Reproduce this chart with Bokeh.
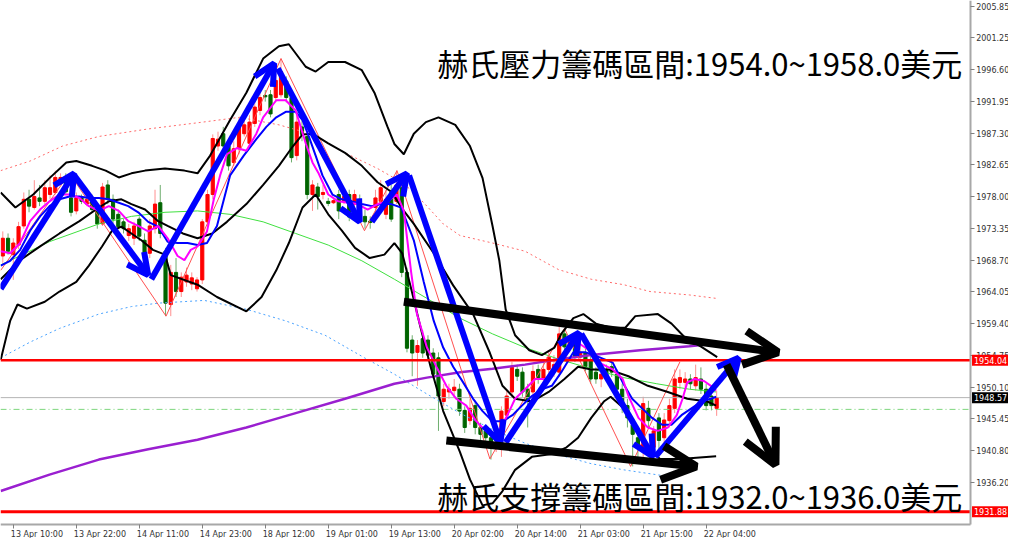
from bokeh.plotting import figure
from bokeh.models import (ColumnDataSource, Label, Arrow, OpenHead, FixedTicker,
                          PrintfTickFormatter)
from bokeh.embed import file_html
from bokeh.resources import INLINE

# ---------------- candles (hourly, bar index 0..136) ----------------
opens = [1969.3,1971.9,1969.5,1970.9,1973.7,1977.6,1976.4,1977.8,1977.3,1978.3,
         1978.6,1980.1,1980.8,1977.8,1975.9,1977.8,1976.9,1977.6,1975.9,1974.0,
         1979.7,1977.6,1975.4,1974.3,1972.3,1971.9,1974.7,1971.6,1969.7,1973.3,
         1977.1,1970.0,1962.2,1966.9,1964.1,1965.5,1965.2,1964.5,1965.8,1974.3,
         1978.3,1985.4,1987.2,1985.4,1983.0,1985.0,1987.2,1985.8,1988.7,1990.6,
         1992.8,1992.9,1992.5,1992.9,1994.9,1992.5,1984.0,1988.2,1986.8,1978.3,
         1979.4,1978.3,1977.3,1977.1,1978.3,1977.3,1978.3,1976.9,1977.6,1975.1,
         1974.4,1976.4,1977.3,1975.4,1978.6,1977.3,1979.3,1966.9,1957.0,1955.2,
         1957.2,1957.0,1955.1,1954.4,1948.0,1949.4,1949.6,1949.8,1946.7,1945.2,
         1947.4,1944.2,1943.7,1942.7,1942.3,1944.2,1946.0,1949.4,1952.7,1952.3,
         1949.8,1949.4,1952.7,1951.3,1952.7,1952.3,1952.3,1957.9,1956.0,1956.5,
         1954.5,1955.1,1954.1,1952.3,1951.3,1952.7,1953.1,1952.0,1949.8,1947.4,
         1944.6,1942.7,1940.9,1947.0,1941.3,1945.6,1942.7,1945.2,1947.0,1950.8,
         1950.8,1951.3,1950.3,1951.3,1949.8,1948.8,1947.0]
highs = [1972.9,1972.6,1971.9,1974.3,1978.6,1979.0,1980.4,1979.7,1980.4,1981.1,
         1981.8,1981.4,1981.4,1978.3,1978.6,1978.3,1978.3,1978.3,1976.6,1980.0,
         1980.4,1978.3,1976.1,1974.7,1974.0,1974.3,1975.1,1972.6,1974.7,1979.0,
         1979.7,1970.5,1968.0,1969.0,1966.9,1967.6,1966.9,1966.2,1974.7,1979.0,
         1987.1,1987.5,1988.2,1986.1,1986.1,1989.6,1989.6,1989.9,1992.1,1993.2,
         1993.6,1993.6,1996.0,1998.2,1995.6,1993.2,1989.9,1989.6,1987.5,1980.4,
         1980.0,1979.7,1977.8,1977.8,1979.0,1978.6,1979.0,1979.0,1978.3,1976.1,
         1975.1,1979.0,1980.4,1979.0,1979.7,1981.8,1980.4,1967.6,1957.7,1957.0,
         1958.4,1957.7,1955.8,1955.2,1950.6,1950.6,1951.3,1950.6,1947.3,1948.4,
         1948.1,1944.9,1944.2,1943.4,1944.2,1947.3,1949.8,1953.8,1953.4,1953.0,
         1950.6,1953.3,1953.4,1953.8,1955.5,1954.8,1959.1,1958.7,1957.7,1957.2,
         1956.2,1955.8,1954.8,1953.0,1952.7,1953.4,1953.8,1952.7,1950.6,1948.4,
         1945.6,1943.4,1948.7,1948.1,1944.4,1946.3,1946.3,1948.4,1952.7,1952.7,
         1952.3,1952.0,1953.4,1953.0,1950.6,1949.6,1949.6]
lows = [1968.3,1969.5,1965.8,1970.3,1973.3,1975.7,1976.1,1976.6,1976.9,1977.6,
        1978.3,1979.7,1978.3,1975.1,1975.4,1976.9,1976.6,1975.7,1973.3,1973.7,
        1976.9,1974.0,1973.2,1972.6,1971.5,1970.9,1971.5,1968.6,1969.0,1972.6,
        1971.9,1960.5,1960.5,1963.3,1963.3,1964.8,1964.3,1964.1,1965.2,1973.7,
        1977.6,1984.7,1984.7,1981.8,1982.5,1984.2,1986.8,1985.4,1988.2,1989.9,
        1991.9,1989.6,1991.8,1992.5,1991.8,1983.0,1983.3,1986.1,1977.6,1975.9,
        1976.1,1977.6,1976.6,1976.9,1974.7,1976.9,1974.4,1976.4,1974.4,1973.3,
        1973.3,1975.7,1976.9,1974.7,1974.3,1976.9,1966.2,1955.2,1951.7,1950.3,
        1954.4,1954.1,1951.3,1943.7,1947.3,1948.4,1948.7,1945.9,1943.4,1944.6,
        1943.2,1942.0,1941.3,1939.5,1940.6,1939.9,1945.3,1948.7,1951.0,1948.7,
        1944.2,1948.7,1950.6,1950.6,1952.0,1951.6,1951.6,1955.2,1955.2,1953.8,
        1953.8,1952.4,1950.6,1950.6,1950.1,1951.0,1951.6,1949.1,1946.3,1944.2,
        1938.5,1939.9,1939.2,1944.2,1939.9,1940.6,1941.6,1944.2,1946.3,1949.8,
        1950.1,1949.8,1949.6,1949.1,1946.7,1946.7,1945.9]
closes = [1971.9,1970.0,1971.2,1973.6,1977.6,1976.6,1978.0,1977.3,1979.3,1979.3,
          1980.8,1980.8,1978.7,1975.7,1977.8,1977.3,1977.6,1976.1,1974.0,1979.4,
          1977.6,1974.7,1973.6,1973.3,1973.3,1973.7,1972.2,1969.3,1973.7,1976.9,
          1972.6,1962.4,1966.9,1964.1,1966.2,1966.5,1966.1,1965.8,1974.3,1978.3,
          1986.5,1986.4,1985.4,1982.5,1985.0,1988.7,1988.5,1988.9,1991.1,1992.5,
          1992.6,1990.1,1995.0,1996.3,1992.5,1983.7,1988.9,1987.1,1978.3,1979.7,
          1978.0,1978.6,1977.0,1977.4,1975.9,1978.0,1975.0,1978.3,1975.1,1974.3,
          1974.2,1977.8,1979.3,1977.6,1974.7,1979.7,1966.9,1955.8,1955.1,1956.2,
          1955.1,1954.8,1952.0,1948.8,1949.8,1949.8,1950.1,1946.6,1944.2,1947.0,
          1944.2,1943.2,1942.7,1942.0,1943.2,1946.6,1948.8,1953.0,1951.7,1949.4,
          1948.0,1952.4,1951.3,1952.7,1954.5,1953.4,1957.9,1956.0,1956.7,1954.5,
          1955.2,1953.1,1951.3,1951.3,1952.0,1951.7,1952.3,1949.8,1947.4,1945.6,
          1943.2,1941.3,1947.7,1945.2,1943.7,1942.3,1945.3,1947.4,1951.3,1951.5,
          1951.3,1950.6,1951.5,1949.8,1947.4,1947.4,1948.57]

# ---------------- axis ticks ----------------
tick_bars = [2, 14, 26, 38, 50, 62, 74, 86, 98, 110, 122, 134]
tick_labels = ["13 Apr 10:00", "13 Apr 22:00", "14 Apr 11:00", "14 Apr 23:00",
               "18 Apr 12:00", "19 Apr 01:00", "19 Apr 13:00", "20 Apr 02:00",
               "20 Apr 14:00", "21 Apr 03:00", "21 Apr 15:00", "22 Apr 04:00"]
y_ticks = [2005.85, 2001.25, 1996.60, 1991.95, 1987.30, 1982.65, 1978.00, 1973.35,
           1968.70, 1964.05, 1959.40, 1954.75, 1950.10, 1945.45, 1940.80, 1936.20]

# ---------------- indicator lines (bar index, price) ----------------
mag_x = [-0.4,1.4,3.3,5.2,7.1,8.9,10.8,12.7,14.6,16.4,18.3,20.2,22.1,23.9,25.8,27.7,29.6,31.4,33.3,34.6,
         35.8,37.1,38.9,40.2,41.4,42.7,44.6,46.4,48.3,49.6,52.1,53.9,55.8,57.7,59.0,60.1,62.0,63.9,65.8,67.6,
         69.5,71.4,73.3,75.1,76.4,77.8,78.9,80.8,82.6,84.5,86.4,88.3,90.1,92.0,93.9,95.2,96.5,97.6,99.5,101.4,
         103.3,105.1,106.4,108.3,109.8,111.7,113.6,116.2,118.1,119.2,121.1,122.9,124.8,126.7,128.4,129.5,130.4,
         131.8,133.6,134.9,135.9]
mag_y = [1970.0,1969.7,1971.2,1974.4,1976.1,1977.3,1978.3,1978.3,1977.8,1976.6,1975.9,1976.6,1975.9,1974.4,
         1973.7,1972.9,1973.7,1971.9,1969.3,1968.7,1970.2,1970.7,1972.9,1977.6,1981.1,1984.2,1985.1,1984.7,
         1987.2,1989.6,1992.1,1992.1,1990.6,1985.8,1983.0,1981.5,1978.3,1977.3,1977.1,1976.9,1976.1,1976.9,
         1977.3,1978.3,1975.9,1966.9,1960.8,1955.9,1953.1,1950.3,1948.4,1947.4,1945.2,1943.7,1943.2,1944.6,
         1946.6,1948.4,1949.8,1951.3,1951.3,1952.3,1953.7,1956.7,1956.5,1955.5,1953.7,1952.7,1951.3,1948.8,
         1945.6,1944.2,1943.7,1944.2,1946.0,1948.4,1950.8,1951.3,1951.0,1950.3,1949.6]
blu_x = [-0.4,1.4,3.3,5.2,7.1,8.9,10.8,12.7,14.6,16.4,18.3,20.2,22.1,23.9,25.8,27.7,29.6,31.4,33.3,35.2,
         37.1,38.9,40.8,43.3,45.9,48.3,50.2,52.1,53.9,55.8,57.1,58.3,59.6,60.9,62.8,64.6,66.5,68.4,70.3,72.1,
         74.0,75.9,78.3,80.2,82.1,83.9,85.8,87.7,89.6,91.4,93.3,95.2,97.1,98.9,100.8,102.7,104.6,106.4,108.7,
         111.1,113.6,116.2,118.1,119.9,121.8,123.7,125.6,127.4,129.3,131.2,133.1,134.9,135.9]
blu_y = [1967.9,1968.6,1970.2,1973.0,1975.1,1976.6,1977.6,1978.0,1978.0,1977.8,1977.8,1977.6,1977.1,1976.6,
         1975.7,1974.3,1973.6,1971.4,1971.2,1971.2,1970.9,1971.2,1973.7,1981.1,1984.0,1986.4,1988.2,1989.6,
         1990.4,1990.4,1989.2,1986.8,1984.0,1981.1,1978.3,1977.6,1977.3,1976.9,1976.6,1976.9,1976.9,1976.4,
         1971.6,1965.5,1959.8,1955.9,1953.1,1950.8,1948.4,1946.6,1945.1,1945.1,1946.0,1947.4,1948.8,1949.8,
         1950.3,1952.3,1955.2,1955.2,1954.5,1953.7,1950.8,1948.4,1947.0,1945.6,1944.6,1944.6,1946.0,1947.0,
         1948.0,1948.4,1948.7]
bb_up_x = [-0.4,2.4,5.8,8.9,12.1,14.0,17.0,19.6,22.1,24.5,27.1,30.9,34.6,37.1,39.5,43.3,46.4,49.6,52.6,54.5,
           57.7,59.6,62.0,65.2,68.4,70.8,73.3,74.6,76.4,78.3,80.6,83.0,86.2,89.0,91.4,93.3,94.6,95.8,97.6,100.3,
           102.7,105.1,106.4,108.7,110.6,113.0,115.8,118.6,120.5,124.8,127.4,129.9,133.1,136.1]
bb_up_y = [1978.6,1976.4,1978.3,1980.7,1983.0,1983.2,1982.5,1981.8,1980.8,1981.4,1981.8,1982.1,1981.8,1981.4,
           1984.0,1989.2,1993.2,1998.2,2000.0,2000.3,1997.0,1996.3,1997.7,1997.7,1996.5,1993.2,1988.2,1985.7,
           1984.2,1987.2,1988.9,1989.6,1988.5,1985.4,1980.7,1973.7,1968.6,1961.5,1957.7,1955.5,1954.8,1955.9,
           1957.9,1960.2,1960.8,1959.4,1958.8,1958.8,1960.5,1960.8,1959.4,1957.4,1956.0,1954.5]
bb_mid_x = [-0.4,3.3,7.1,10.8,14.6,18.3,20.2,22.6,24.5,27.1,29.6,31.4,34.3,37.1,39.9,42.7,46.4,49.6,52.6,55.3,
            57.1,59.0,62.0,65.2,68.4,71.4,74.0,76.4,78.3,82.1,85.8,89.6,92.8,95.2,97.6,100.8,104.0,107.0,109.6,
            112.1,115.4,119.2,122.9,126.7,130.4,134.2,135.9]
bb_mid_y = [1965.9,1968.7,1970.7,1972.6,1974.4,1976.4,1977.3,1977.6,1976.9,1976.1,1974.4,1973.7,1972.6,1971.9,
            1972.6,1974.3,1976.9,1979.7,1982.5,1985.4,1987.1,1987.2,1985.8,1984.4,1982.5,1980.1,1978.7,1975.9,
            1974.0,1969.7,1965.0,1960.8,1955.1,1950.3,1948.4,1948.0,1949.4,1951.3,1953.1,1952.7,1952.7,1951.7,
            1950.3,1949.4,1948.4,1948.0,1947.4]
bb_lo_x = [-0.4,1.4,2.8,4.6,8.0,10.8,14.0,16.4,18.9,20.8,22.6,24.5,26.4,28.6,30.9,32.0,37.1,40.8,46.4,49.3,
           52.1,54.5,57.1,59.6,62.0,64.6,67.1,69.9,72.7,74.6,76.1,77.8,79.6,81.5,83.9,87.1,89.0,91.4,93.3,95.2,
           97.6,100.8,104.6,107.4,109.6,112.1,114.5,115.8,118.3,120.9,123.3,125.2,129.0,135.9]
bb_lo_y = [1954.1,1959.8,1962.2,1961.6,1962.6,1964.1,1965.5,1967.9,1970.7,1973.0,1973.6,1972.6,1971.6,1970.2,
           1969.5,1966.5,1965.1,1963.3,1961.2,1963.3,1967.2,1971.2,1976.4,1978.3,1975.4,1973.0,1970.5,1969.0,
           1969.5,1971.2,1969.7,1964.5,1958.8,1953.1,1946.6,1940.6,1936.6,1932.8,1933.1,1934.9,1938.0,1939.9,
           1940.3,1941.3,1942.7,1945.6,1948.0,1948.7,1947.0,1943.7,1941.0,1939.6,1939.6,1940.0]
grn_x = [-0.4,4.3,8.9,18.3,24.5,30.9,37.1,43.3,49.6,55.8,62.0,68.4,74.6,80.8,87.1,93.3,99.5,105.9,112.1,
         118.3,124.6,130.8,135.9]
grn_y = [1968.0,1969.7,1971.4,1974.0,1975.1,1975.7,1975.9,1975.4,1974.3,1972.6,1970.9,1968.6,1965.9,1963.1,
         1960.2,1957.9,1955.9,1954.2,1952.8,1951.5,1950.6,1949.8,1949.4]
pur_x = [-0.4,8.9,18.3,27.7,37.1,46.4,55.8,65.2,74.6,80.8,87.1,93.3,99.5,105.9,112.1,121.4,130.8,135.9]
pur_y = [1934.9,1937.3,1939.5,1941.0,1942.4,1944.2,1946.3,1948.4,1950.6,1951.5,1952.3,1952.8,1953.4,1954.2,
         1954.8,1955.5,1956.1,1956.5]
rdot_x = [-0.4,5.2,11.4,18.3,27.7,37.1,45.1,52.6,59.0,65.2,71.4,74.6,77.8,80.8,83.9,87.1,93.3,99.5,105.9,
          112.1,118.3,123.3,130.8,135.9]
rdot_y = [1981.8,1983.2,1985.4,1986.8,1987.9,1988.8,1989.6,1988.5,1987.1,1984.4,1982.1,1980.7,1979.0,1976.6,
          1974.0,1972.3,1971.2,1970.0,1967.3,1965.9,1965.1,1964.1,1963.6,1963.1]
bdot_x = [-0.4,5.2,10.8,18.3,24.5,29.6,38.4,46.4,53.9,61.4,68.9,74.6,80.8,87.1,93.3,99.5,105.9,112.1,118.3,127.1]
bdot_y = [1954.4,1956.7,1958.7,1960.8,1961.9,1962.4,1962.8,1961.5,1959.8,1957.7,1954.4,1952.0,1949.1,1946.3,
          1943.9,1941.9,1940.2,1938.9,1938.0,1937.0]
zig_x = [-0.4,12.7,31.1,53.0,68.9,75.1,92.8,107.0,119.6,129.0]
zig_y = [1967.2,1981.4,1960.5,1998.2,1973.0,1981.8,1939.6,1958.7,1938.5,1953.8]

# ---------------- hand-drawn arrows ----------------
blue_x0 = [-0.4,13.6,28.3,52.4,70.3,77.4,95.8,110.2,124.3]
blue_y0 = [1964.5,1981.1,1965.9,1996.75,1974.3,1981.1,1942.0,1957.9,1939.9]
blue_x1 = [13.6,27.7,51.7,68.0,77.0,94.8,109.8,123.9,140.2]
blue_y1 = [1981.4,1966.5,1997.5,1974.3,1981.4,1942.0,1958.1,1939.9,1954.4]
black_x0 = [76.4,84.5,137.9]
black_y0 = [1962.6,1942.3,1953.4]
black_x1 = [147.7,132.1,147.2]
black_y1 = [1955.2,1938.5,1938.75]

# ---------------- levels and texts ----------------
resist_level = 1954.04
support_level = 1931.88
bid_level = 1948.57
ask_level = 1946.85
text_top = "赫氏壓力籌碼區間:1954.0~1958.0美元"
text_bottom = "赫氏支撐籌碼區間:1932.0~1936.0美元"

# ======================================================================
X_START, X_END = -0.44, 191.6          # visible bar span (incl. price-scale strip)
Y_START, Y_END = 1927.95, 2006.70
AXIS_X = 184.3                          # where the price scale sits
AXIS_Y = 1929.94                        # where the time scale sits

n = min(len(opens), len(highs), len(lows), len(closes))
up = [i for i in range(n) if closes[i] >= opens[i]]
dn = [i for i in range(n) if closes[i] < opens[i]]


def cdict(ids):
    return dict(x=ids,
                top=[max(opens[i], closes[i]) for i in ids],
                bottom=[min(opens[i], closes[i]) for i in ids],
                hi=[max(highs[i], opens[i], closes[i]) for i in ids],
                lo=[min(lows[i], opens[i], closes[i]) for i in ids])


up_src = ColumnDataSource(cdict(up))
dn_src = ColumnDataSource(cdict(dn))

p = figure(width=1008, height=538, x_range=(X_START, X_END), y_range=(Y_START, Y_END),
           output_backend="svg", toolbar_location=None, y_axis_location="right",
           min_border_left=0, min_border_top=0, min_border_right=0, min_border_bottom=0)
p.xgrid.visible = False
p.ygrid.visible = False
p.outline_line_color = None
p.background_fill_color = "white"
p.border_fill_color = "white"

# time axis
xa = p.xaxis[0]
xa.fixed_location = AXIS_Y
xa.bounds = (X_START, AXIS_X)
shifted = [t + 4.5 for t in tick_bars]
xa.ticker = FixedTicker(ticks=shifted, minor_ticks=tick_bars)
xa.major_label_overrides = {s: lab for s, lab in zip(shifted, tick_labels)}
xa.major_tick_line_color = None
xa.major_tick_out = 4
xa.major_tick_in = 0
xa.minor_tick_line_color = "#808080"
xa.minor_tick_out = 4
xa.minor_tick_in = 0
xa.axis_line_color = "#a8a8a8"
xa.axis_line_width = 2
xa.major_label_standoff = 1
xa.major_label_text_font = "DejaVu Sans"
xa.major_label_text_font_size = "8px"
xa.major_label_text_color = "#333333"

# price axis
ya = p.yaxis[0]
ya.fixed_location = AXIS_X
ya.bounds = (AXIS_Y, Y_END)
ya.ticker = FixedTicker(ticks=y_ticks)
ya.formatter = PrintfTickFormatter(format="%.2f")
ya.minor_tick_line_color = None
ya.major_tick_line_color = "#808080"
ya.major_tick_out = 4
ya.major_tick_in = 0
ya.axis_line_color = "#a8a8a8"
ya.axis_line_width = 2
ya.major_label_standoff = 2
ya.major_label_text_font = "DejaVu Sans"
ya.major_label_text_font_size = "8px"
ya.major_label_text_color = "#333333"

# candles
p.segment(x0="x", y0="lo", x1="x", y1="hi", source=up_src, line_color="#ff8f8f", line_width=1)
p.segment(x0="x", y0="lo", x1="x", y1="hi", source=dn_src, line_color="#6fae6f", line_width=1)
p.vbar(x="x", width=0.6, top="top", bottom="bottom", source=up_src,
       fill_color="#ff0000", line_color="#ff0000", line_width=1)
p.vbar(x="x", width=0.6, top="top", bottom="bottom", source=dn_src,
       fill_color="#006400", line_color="#006400", line_width=1)


def pair(a, b):
    m = min(len(a), len(b))
    return a[:m], b[:m]


# level lines (end at the price scale)
p.segment(x0=[X_START], y0=[ask_level], x1=[AXIS_X], y1=[ask_level],
          line_color="#7ed67e", line_width=1, line_dash="6 3 1 3")
p.segment(x0=[X_START], y0=[bid_level], x1=[AXIS_X], y1=[bid_level],
          line_color="#b4b4b4", line_width=1)

# indicators
x, y = pair(rdot_x, rdot_y)
p.line(x, y, line_color="#ff6a6a", line_width=1, line_dash="2 3")
x, y = pair(bdot_x, bdot_y)
p.line(x, y, line_color="#4aa3ff", line_width=1, line_dash="2 3")
x, y = pair(grn_x, grn_y)
p.line(x, y, line_color="#40e040", line_width=1)
x, y = pair(pur_x, pur_y)
p.line(x, y, line_color="#9a1fd0", line_width=2.5)
x, y = pair(zig_x, zig_y)
p.line(x, y, line_color="#ff5050", line_width=1)
for bx, by in ((bb_up_x, bb_up_y), (bb_mid_x, bb_mid_y), (bb_lo_x, bb_lo_y)):
    x, y = pair(bx, by)
    p.line(x, y, line_color="black", line_width=2)
x, y = pair(blu_x, blu_y)
p.line(x, y, line_color="#0000ff", line_width=2)
x, y = pair(mag_x, mag_y)
p.line(x, y, line_color="#ff00ff", line_width=2)

p.segment(x0=[X_START, X_START], y0=[resist_level, support_level],
          x1=[AXIS_X, AXIS_X], y1=[resist_level, support_level],
          line_color="#ff0000", line_width=[2.5, 3])

# arrows
m = min(len(blue_x0), len(blue_y0), len(blue_x1), len(blue_y1))
bsrc = ColumnDataSource(dict(x0=blue_x0[:m], y0=blue_y0[:m], x1=blue_x1[:m], y1=blue_y1[:m]))
p.add_layout(Arrow(source=bsrc, x_start="x0", y_start="y0", x_end="x1", y_end="y1",
                   line_color="#0000ff", line_width=6,
                   end=OpenHead(line_color="#0000ff", line_width=6, size=21)))
ksrc = ColumnDataSource(dict(x0=black_x0, y0=black_y0, x1=black_x1, y1=black_y1))
p.add_layout(Arrow(source=ksrc, x_start="x0", y_start="y0", x_end="x1", y_end="y1",
                   line_color="black", line_width=8,
                   end=OpenHead(line_color="black", line_width=8, size=34)))

# texts
p.add_layout(Label(x=182.8, y=1997.6, text=text_top, text_align="right", text_baseline="middle",
                   text_font="Noto Sans CJK TC", text_font_size="31px", text_color="black"))
p.add_layout(Label(x=182.8, y=1934.2, text=text_bottom, text_align="right", text_baseline="middle",
                   text_font="Noto Sans CJK TC", text_font_size="31px", text_color="black"))

# price tags on the price scale
for lvl, col in ((resist_level, "#ff0000"), (bid_level, "#000000"), (support_level, "#ff0000")):
    p.add_layout(Label(x=AXIS_X + 0.35, y=lvl, text="%.2f" % lvl, text_align="left",
                       text_baseline="middle", text_font="DejaVu Sans", text_font_size="8px",
                       text_color="white", background_fill_color=col, padding=2))

with open("out.html", "w", encoding="utf-8") as f:
    f.write(file_html(p, INLINE))
